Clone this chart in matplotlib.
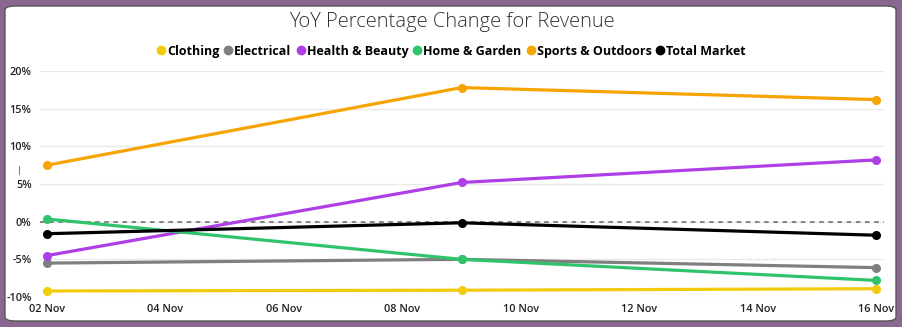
import numpy as np
import matplotlib
matplotlib.use("Agg")
import matplotlib.pyplot as plt
import matplotlib.dates as mdates
from matplotlib.lines import Line2D
from matplotlib.patches import FancyBboxPatch

# weekly YoY revenue change (%) by category
dates = np.array(["2023-11-02", "2023-11-09", "2023-11-16"], dtype="datetime64[D]")
categories = ["Clothing", "Electrical", "Health & Beauty", "Home & Garden",
              "Sports & Outdoors", "Total Market"]
clothing = [-9.2, -9.1, -8.9]
electrical = [-5.5, -5.0, -6.1]
health_beauty = [-4.5, 5.2, 8.2]
home_garden = [0.35, -5.0, -7.8]
sports_outdoors = [7.5, 17.8, 16.2]
total_market = [-1.6, -0.15, -1.8]
series = [clothing, electrical, health_beauty, home_garden, sports_outdoors, total_market]
colors = ["#F2CC0C", "#7F7F7F", "#AE3FE6", "#2FC46B", "#F7A300", "#000000"]

W, H = 903, 327
plt.rcParams.update({"font.family": ["Open Sans", "DejaVu Sans"]})
fig = plt.figure(figsize=(W / 100, H / 100), dpi=100, facecolor="#8A6791")
fig.patches.append(FancyBboxPatch((5 / W, 6 / H), 891 / W, 315 / H,
                                  boxstyle="round,pad=0,rounding_size=0.012",
                                  transform=fig.transFigure, facecolor="white",
                                  edgecolor="#555555", lw=1.0, zorder=-5))

ax = fig.add_axes([40 / W, 1 - 297 / H, 844 / W, 226 / H], zorder=2)
ax.set_facecolor("none")
x = mdates.date2num(dates)
for vals, c in zip(series, colors):
    ax.plot(x, vals, color=c, lw=2.3, marker="o", ms=5.5, clip_on=False, zorder=3)

ax.axhline(0, color="#666666", lw=1.1, ls=(0, (3, 3)), zorder=2)
ax.set_ylim(-10, 20)
ax.set_yticks(np.arange(-10, 21, 5))
ax.yaxis.set_major_formatter(plt.FuncFormatter(lambda v, _: f"{v:.0f}%"))
ax.set_xlim(x[0] - 0.12, x[-1] + 0.135)
ax.xaxis.set_major_locator(mdates.DayLocator(bymonthday=range(2, 31, 2)))
ax.xaxis.set_major_formatter(mdates.DateFormatter("%d %b"))
ax.grid(axis="y", color="#EAEAEA", lw=1.0)
ax.set_axisbelow(True)
for s in ax.spines.values():
    s.set_visible(False)
ax.tick_params(length=0, labelsize=7.8, labelcolor="#222222")
ax.tick_params(axis="y", pad=6)
ax.tick_params(axis="x", pad=5)
for lbl in ax.get_xticklabels() + ax.get_yticklabels():
    lbl.set_fontweight("semibold")

fig.text(0.5, 1 - 22 / H, "YoY Percentage Change for Revenue", ha="center", va="center",
         fontsize=14.5, fontweight="light", color="#333333")

# legend row: dot + label, laid out on a shared baseline
renderer = fig.canvas.get_renderer()
base_y = 1 - 55 / H
dot_w, dot_gap, item_gap = 8, 2, 5
texts = [fig.text(0, base_y, name, ha="left", va="baseline", fontsize=9,
                  fontweight="bold", color="black") for name in categories]
widths = [t.get_window_extent(renderer).width for t in texts]
total = sum(widths) + len(texts) * (dot_w + dot_gap) + (len(texts) - 1) * item_gap
cur = (W - total) / 2
for t, w, c in zip(texts, widths, colors):
    fig.add_artist(Line2D([(cur + dot_w / 2) / W], [1 - 50 / H], ls="none", marker="o",
                          ms=6, color=c, transform=fig.transFigure))
    cur += dot_w + dot_gap
    t.set_x(cur / W)
    cur += w + item_gap

# stray tick mark at the left edge
fig.add_artist(Line2D([19 / W, 19 / W], [1 - 166 / H, 1 - 174 / H],
                      color="#888888", lw=0.8))

fig.savefig("out.png", dpi=100, facecolor=fig.get_facecolor())
